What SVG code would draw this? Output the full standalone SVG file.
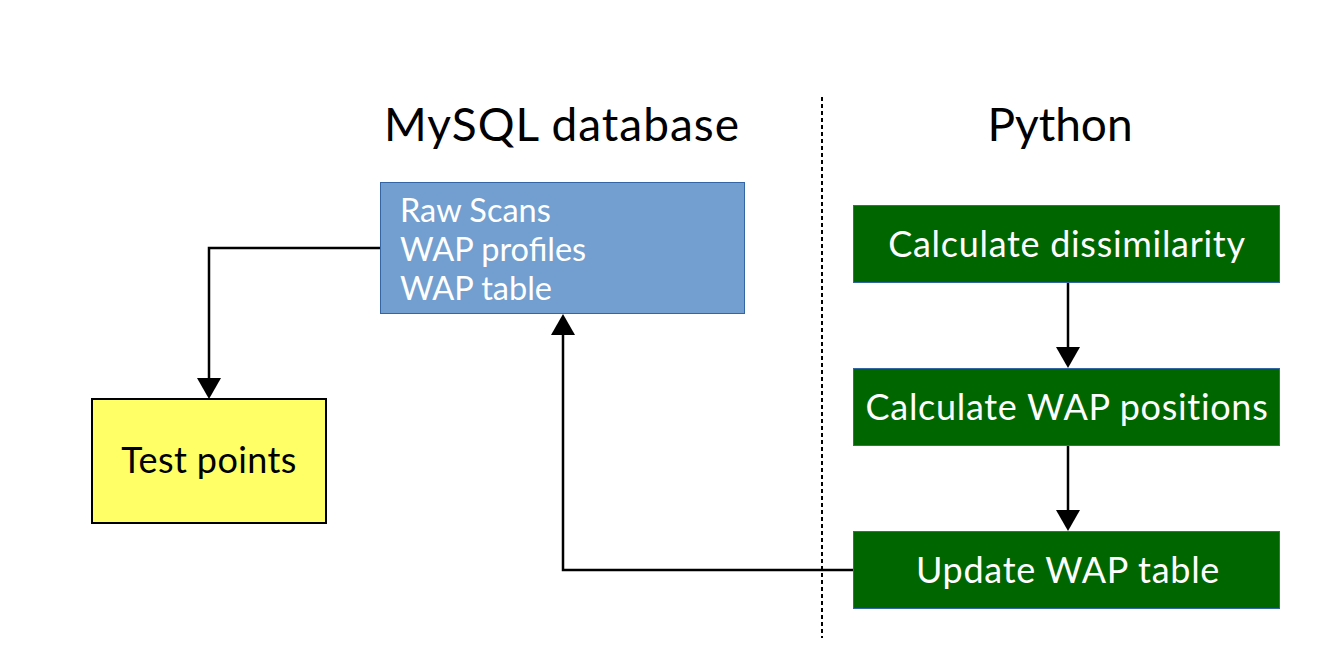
<svg xmlns="http://www.w3.org/2000/svg" width="1333" height="668" viewBox="0 0 1333 668">
<style>
text{font-family:Lato,"Open Sans",sans-serif}
.title{font-size:46px;fill:#000;text-anchor:middle}
.green rect{fill:#006600;stroke:#3465a4;stroke-width:1}
.green text{font-size:36px;fill:#fff;text-anchor:middle;letter-spacing:0.7px}
.blue{font-size:32.5px;fill:#fff}
.conn{fill:none;stroke:#000;stroke-width:2.5}
</style>
<rect width="1333" height="668" fill="#fff"/>
<g id="headers">
<text class="title" x="562" y="141" letter-spacing="1">MySQL database</text>
<text class="title" x="1060" y="141">Python</text>
<line x1="822" y1="97" x2="822" y2="638" stroke="#000" stroke-width="2" stroke-dasharray="4,3"/>
</g>
<g id="connectors">
<path class="conn" d="M380,248 H209 V378"/>
<path d="M197,378 L221,378 L209,399 z" fill="#000"/>
<path class="conn" d="M1068,283 V347"/>
<path d="M1056,347 L1080,347 L1068,368 z" fill="#000"/>
<path class="conn" d="M1068,446 V510"/>
<path d="M1056,510 L1080,510 L1068,531 z" fill="#000"/>
<path class="conn" d="M853,570 H563 V335"/>
<path d="M551,335 L575,335 L563,314 z" fill="#000"/>
</g>
<g id="mysql">
<rect x="380.5" y="182.5" width="364" height="131" fill="#729fcf" stroke="#3465a4" stroke-width="1"/>
<text class="blue" x="400" y="222">Raw Scans</text>
<text class="blue" x="400" y="261">WAP profiles</text>
<text class="blue" x="400" y="300">WAP table</text>
</g>
<g id="testpoints">
<rect x="92" y="399" width="234" height="124" fill="#ffff66" stroke="#000" stroke-width="2"/>
<text x="209" y="473" font-size="36" letter-spacing="0.4" fill="#000" text-anchor="middle">Test points</text>
</g>
<g id="dissimilarity" class="green">
<rect x="853.5" y="205.5" width="426" height="77"/>
<text x="1067" y="257">Calculate dissimilarity</text>
</g>
<g id="positions" class="green">
<rect x="853.5" y="368.5" width="426" height="77"/>
<text x="1067" y="420">Calculate WAP positions</text>
</g>
<g id="update" class="green">
<rect x="853.5" y="531.5" width="426" height="77"/>
<text x="1068" y="583">Update WAP table</text>
</g>
</svg>
